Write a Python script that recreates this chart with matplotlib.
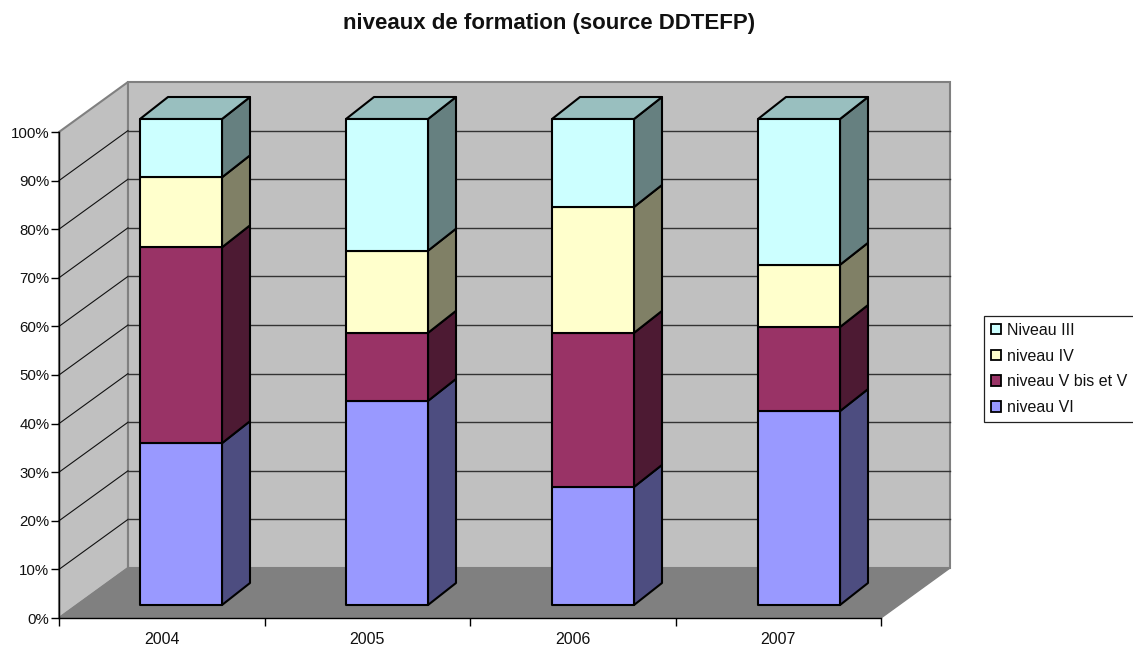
import matplotlib
matplotlib.use('Agg')
import matplotlib.pyplot as plt
from matplotlib.patches import Polygon, Patch

plt.rcParams['font.family'] = ['Liberation Sans', 'DejaVu Sans']

# data
years = ['2004', '2005', '2006', '2007']
niveau_vi = [33.3, 42.0, 24.3, 39.9]
niveau_v = [40.3, 14.0, 31.7, 17.3]
niveau_iv = [14.4, 16.9, 25.9, 12.8]
niveau_iii = [12.0, 27.1, 18.1, 30.0]
series = [niveau_vi, niveau_v, niveau_iv, niveau_iii]
labels = ['niveau VI', 'niveau V bis et V', 'niveau IV', 'Niveau III']
colors = ['#9999FF', '#993366', '#FFFFCC', '#CCFFFF']
side_colors = ['#4D4D80', '#4D1A33', '#808066', '#668080']
top_color = '#99BFBF'
y_ticks = list(range(0, 101, 10))

# depth of the chart box, in data units
DX = 69 / 205.5
DY = 50 / 4.86
BAR_W = 82 / 205.5
BAR_STEP = 206 / 205.5
BAR_DX = 28 / 205.5
BAR_DY = 22 / 4.86
BAR_X0 = 81 / 205.5
BAR_Y0 = 13 / 4.86


def proj(x, y, d):
    return (x + d * DX, y + d * DY)


fig = plt.figure(figsize=(11.33, 6.48), dpi=100)
ax = fig.add_axes([59 / 1133, 30 / 648, 822 / 1133, 486 / 648])
ax.set_xlim(0, 4)
ax.set_ylim(0, 100)
ax.patch.set_visible(False)

grey = '#808080'
# walls and floor
side = [proj(0, 0, 0), proj(0, 100, 0), proj(0, 100, 1), proj(0, 0, 1)]
back = [proj(0, 0, 1), proj(0, 100, 1), proj(4, 100, 1), proj(4, 0, 1)]
floor = [proj(0, 0, 0), proj(4, 0, 0), proj(4, 0, 1), proj(0, 0, 1)]
ax.add_patch(Polygon(side, fc='#C0C0C0', ec=grey, lw=1.5, clip_on=False, zorder=1))
ax.add_patch(Polygon(back, fc='#C0C0C0', ec=grey, lw=1.5, clip_on=False, zorder=1))
ax.add_patch(Polygon(floor, fc=grey, ec=grey, lw=1, clip_on=False, zorder=1))

# gridlines
for t in y_ticks[1:-1]:
    a = proj(0, t, 0)
    b = proj(0, t, 1)
    c = proj(4, t, 1)
    ax.plot([a[0], b[0]], [a[1], b[1]], color='#111111', lw=0.8, clip_on=False, zorder=2)
    ax.plot([b[0], c[0]], [b[1], c[1]], color='#333333', lw=1.0, clip_on=False, zorder=2)

# bars
for i in range(len(years)):
    x0 = i * BAR_STEP + BAR_X0
    x1 = x0 + BAR_W
    bottom = BAR_Y0
    for s in range(len(series)):
        top = bottom + series[s][i]
        front = [(x0, bottom), (x0, top), (x1, top), (x1, bottom)]
        right = [(x1, bottom), (x1, top), (x1 + BAR_DX, top + BAR_DY), (x1 + BAR_DX, bottom + BAR_DY)]
        ax.add_patch(Polygon(right, fc=side_colors[s], ec='black', lw=1.5, joinstyle='round', clip_on=False, zorder=3))
        ax.add_patch(Polygon(front, fc=colors[s], ec='black', lw=1.5, joinstyle='round', clip_on=False, zorder=4))
        bottom = top
    cap = [(x0, bottom), (x1, bottom), (x1 + BAR_DX, bottom + BAR_DY), (x0 + BAR_DX, bottom + BAR_DY)]
    ax.add_patch(Polygon(cap, fc=top_color, ec='black', lw=1.5, joinstyle='round', clip_on=False, zorder=3))

# axes
for name in ['top', 'right']:
    ax.spines[name].set_visible(False)
ax.spines['left'].set_linewidth(1.0)
ax.spines['bottom'].set_linewidth(1.0)
ax.spines['left'].set_zorder(6)
ax.spines['bottom'].set_zorder(6)
ax.set_yticks(y_ticks)
ax.set_yticklabels([str(t) + '%' for t in y_ticks], fontsize=10.8, color='#111111')
ax.set_xticks([0, 1, 2, 3, 4])
ax.set_xticklabels([])
ax.set_xticks([0.5, 1.5, 2.5, 3.5], minor=True)
ax.set_xticklabels(years, minor=True, fontsize=11.5, color='#111111')
ax.tick_params(axis='x', which='minor', length=0, pad=10)
ax.tick_params(axis='x', which='major', length=6, width=1)
ax.tick_params(axis='y', length=6, width=1, pad=1)

fig.text(549 / 1133, 1 - 24 / 648, 'niveaux de formation (source DDTEFP)', fontsize=16,
         fontweight='bold', ha='center', va='center', color='#111111')

handles = [Patch(fc=colors[s], ec='black', lw=1.3) for s in range(len(series) - 1, -1, -1)]
leg = fig.legend(handles, labels[::-1], loc='upper left', bbox_to_anchor=(984 / 1133, 1 - 316 / 648),
                 borderaxespad=0, fontsize=11.5, frameon=True, fancybox=False, edgecolor='#222222',
                 facecolor='white', framealpha=1, labelspacing=0.68, handlelength=0.65, handleheight=0.65,
                 handletextpad=0.35, borderpad=0.42, labelcolor='#111111')
leg.get_frame().set_linewidth(0.9)

fig.savefig('out.png', dpi=100)
plt.close()
